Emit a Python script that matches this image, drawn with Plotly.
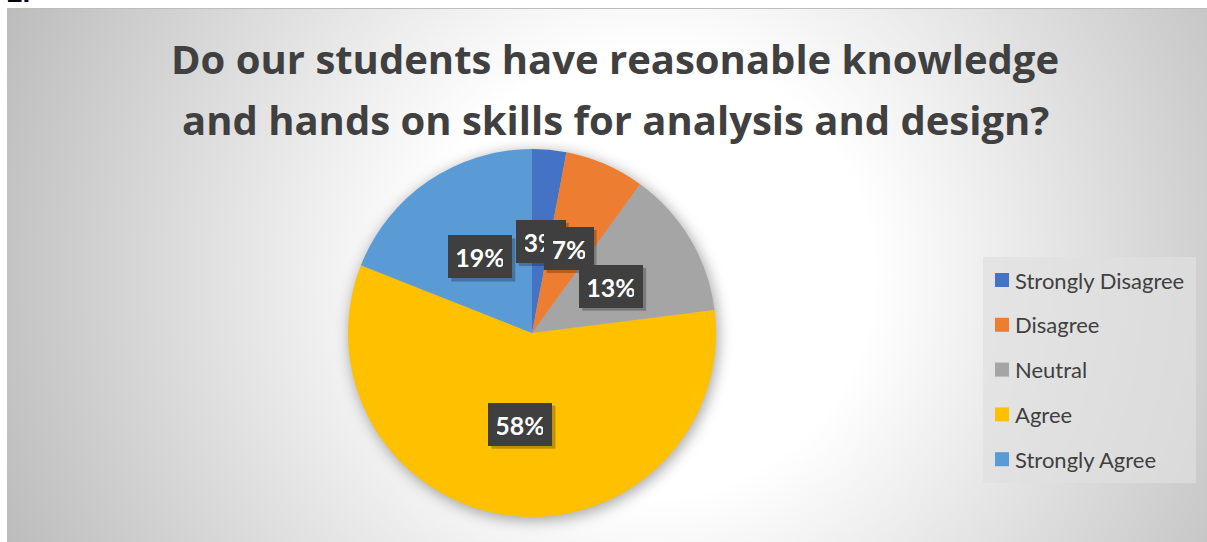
import base64
import math
import plotly.graph_objects as go

# ---- data -------------------------------------------------------------
categories = ["Strongly Disagree", "Disagree", "Neutral", "Agree", "Strongly Agree"]
shares = [3, 7, 13, 58, 19]          # percent of respondents
colors = ["#4472C4", "#ED7D31", "#A5A5A5", "#FFC000", "#5B9BD5"]
title_lines = [
    "Do our students have reasonable knowledge",
    "and hands on skills for analysis and design?",
]

# ---- layout constants (pixels) ---------------------------------------
W, H = 1207, 542
AREA_X0, AREA_Y0 = 7, 8              # chart-area top-left corner
PIE_CX, PIE_CY, PIE_R = 532, 333, 184
LABEL_FRAC = 0.5                     # data labels sit half-way out
FONT = "Lato"
TITLE_FONT = "Open Sans"
TEXT_GREY = "#404040"
TITLE_CX, TITLE_Y, TITLE_STEP = 615, 58, 61
LABEL_SIZE, LABEL_PAD = 25, 8


def px_to_paper(x, y):
    return x / W, 1 - y / H


# ---- background: radial grey gradient with a soft shadow under the pie
cw, ch = W - AREA_X0, H - AREA_Y0
pcx, pcy = PIE_CX - AREA_X0, PIE_CY - AREA_Y0
svg = f"""<svg xmlns="http://www.w3.org/2000/svg" width="{cw}" height="{ch}" viewBox="0 0 {cw} {ch}">
<defs>
<radialGradient id="bg" gradientUnits="userSpaceOnUse" cx="{cw*0.535:.1f}" cy="{ch*0.5:.1f}" r="{cw*0.58:.1f}">
<stop offset="0" stop-color="#ffffff"/>
<stop offset="0.32" stop-color="#ffffff"/>
<stop offset="1" stop-color="#bcbcbc"/>
</radialGradient>
<filter id="soft" x="-30%" y="-30%" width="160%" height="160%"><feGaussianBlur stdDeviation="7"/></filter>
</defs>
<rect x="0" y="0" width="{cw}" height="{ch}" fill="url(#bg)"/>
<line x1="0" y1="0.5" x2="{cw}" y2="0.5" stroke="#bdbdbd" stroke-width="1"/>
<circle cx="{pcx+2}" cy="{pcy+3}" r="{PIE_R+1}" fill="#000" fill-opacity="0.33" filter="url(#soft)"/>
</svg>"""
bg_uri = "data:image/svg+xml;base64," + base64.b64encode(svg.encode()).decode()

fig = go.Figure()

fig.add_trace(go.Pie(
    labels=categories,
    values=shares,
    sort=False,
    direction="clockwise",
    rotation=0,
    marker=dict(colors=colors, line=dict(width=0)),
    textinfo="none",
    hoverinfo="label+percent",
    showlegend=False,
    domain=dict(
        x=[(PIE_CX - PIE_R) / W, (PIE_CX + PIE_R) / W],
        y=[1 - (PIE_CY + PIE_R) / H, 1 - (PIE_CY - PIE_R) / H],
    ),
))

annotations = []
shapes = []

# fragment of the preceding heading number, cut by the top edge
annotations.append(dict(
    text="<b>2.</b>", x=0.004, y=1 - 10 / H, xref="paper", yref="paper",
    xanchor="left", yanchor="bottom", showarrow=False,
    font=dict(family="Liberation Sans", size=28, color="#000000"),
))

# chart title, one centred line per entry
for i, line in enumerate(title_lines):
    tx, ty = px_to_paper(TITLE_CX, TITLE_Y + i * TITLE_STEP)
    annotations.append(dict(
        text=f"<b>{line}</b>", x=tx, y=ty, xref="paper", yref="paper",
        xanchor="center", yanchor="middle", showarrow=False,
        font=dict(family=TITLE_FONT, size=40, color=TEXT_GREY),
    ))

# data labels: dark boxes at mid-angle of each slice
total = sum(shares)
cum = 0
for v in shares:
    theta = 2 * math.pi * (cum + v / 2) / total
    cum += v
    lx = PIE_CX + LABEL_FRAC * PIE_R * math.sin(theta)
    ly = PIE_CY - LABEL_FRAC * PIE_R * math.cos(theta)
    ax, ay = px_to_paper(lx, ly)
    pct = round(100 * v / total)
    txt = f"<b>{pct}%</b>"
    tw = 14 * len(str(pct)) + 18          # text box width
    th = 25                                # text box height
    bw = tw + 2 * (LABEL_PAD + 1)
    bh = th + 2 * (LABEL_PAD + 1)
    # drop shadow, offset down-right
    shapes.append(dict(
        type="rect", xref="paper", yref="paper", layer="above",
        x0=(lx - bw / 2 + 3) / W, x1=(lx + bw / 2 + 3) / W,
        y0=1 - (ly + bh / 2 + 3) / H, y1=1 - (ly - bh / 2 + 3) / H,
        fillcolor="rgba(0,0,0,0.25)", line=dict(width=0),
    ))
    annotations.append(dict(
        text=txt, x=ax, y=ay, xref="paper", yref="paper", showarrow=False,
        xanchor="center", yanchor="middle", width=tw, height=th,
        borderpad=LABEL_PAD, borderwidth=1,
        font=dict(family=FONT, size=LABEL_SIZE, color="#ffffff"),
        bgcolor="#3f3f3f", bordercolor="#3f3f3f"))

# legend: swatches and labels stacked down the right side
LEG_X0, LEG_X1, LEG_Y0, LEG_Y1 = 983, 1196, 257, 483
LEG_FIRST, LEG_STEP, SW = 280, 44.8, 14
shapes.append(dict(
    type="rect", xref="paper", yref="paper",
    x0=LEG_X0 / W, x1=LEG_X1 / W, y0=1 - LEG_Y1 / H, y1=1 - LEG_Y0 / H,
    fillcolor="rgba(224,224,224,0.7)", line=dict(width=0), layer="below",
))
for i, (name, col) in enumerate(zip(categories, colors)):
    yc = LEG_FIRST + i * LEG_STEP
    shapes.append(dict(
        type="rect", xref="paper", yref="paper",
        x0=995 / W, x1=(995 + SW) / W,
        y0=1 - (yc + SW / 2) / H, y1=1 - (yc - SW / 2) / H,
        fillcolor=col, line=dict(width=0),
    ))
    annotations.append(dict(
        text=name, x=1013 / W, y=1 - yc / H, xref="paper", yref="paper",
        xanchor="left", yanchor="middle", showarrow=False,
        font=dict(family=FONT, size=22, color=TEXT_GREY),
    ))

fig.update_layout(
    width=W, height=H,
    margin=dict(l=0, r=0, t=0, b=0, pad=0),
    paper_bgcolor="#ffffff",
    plot_bgcolor="#ffffff",
    images=[dict(
        source=bg_uri, xref="paper", yref="paper",
        x=AREA_X0 / W, y=1 - AREA_Y0 / H,
        sizex=cw / W, sizey=ch / H,
        xanchor="left", yanchor="top", sizing="stretch", layer="below",
    )],
    shapes=shapes,
    annotations=annotations,
)

fig.write_html("out.html")
